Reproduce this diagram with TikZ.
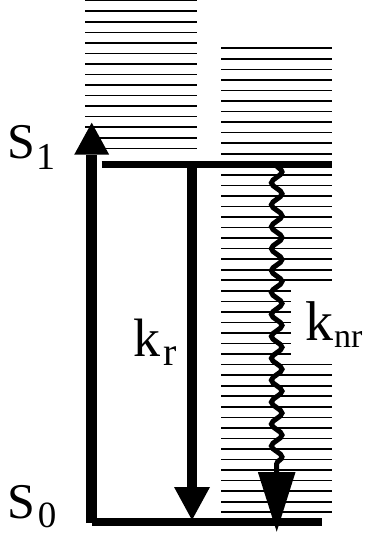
\documentclass[tikz,border=0pt]{standalone}
\usepackage{fontspec}
\setmainfont{Liberation Serif}
\usetikzlibrary{arrows.meta,decorations.pathmorphing}
\begin{document}
\begin{tikzpicture}[x=1pt,y=-1pt,
  level/.style={line width=1.6pt},
  thicklevel/.style={line width=7pt},
  bigarrow/.style={line width=10.5pt},
  wavy/.style={line width=5pt, decorate, decoration={snake, amplitude=5.3pt, segment length=21.93pt}},
  lbl/.style={anchor=base west, inner sep=0pt, outer sep=0pt}]
\useasboundingbox (0,0) rectangle (366,537);
% vibrational levels of S1
\foreach \k in {0,...,14} {
  \pgfmathsetmacro\yy{0.7+10.545*\k}
  \draw[level] (85,\yy) -- (196.7,\yy);
}
% vibrational levels of S0
\foreach \k in {0,...,44} {
  \pgfmathsetmacro\yy{48.3+10.545*\k}
  \ifnum\k>22 \ifnum\k<30 \def\xe{290.7}\else\def\xe{332.3}\fi\else\def\xe{332.3}\fi
  \draw[level] (221,\yy) -- (\xe,\yy);
}
% coordinates
\coordinate (s0a) at (91.7,522);
\coordinate (s0b) at (322,522);
\coordinate (s1a) at (101.7,165);
\coordinate (s1b) at (332.3,165);
\coordinate (upfrom) at (91.7,523);
\coordinate (uptip) at (91.7,122.7);
\coordinate (krfrom) at (192,165);
\coordinate (krtip) at (192,520);
\coordinate (knrfrom) at (276.7,165);
\coordinate (knrend) at (276.7,472);
\coordinate (knrtip) at (276.7,531.7);
% electronic levels
\draw[line width=7.3pt] (s0a) -- (s0b);
\draw[wavy] (knrfrom) -- (knrend);
\draw[thicklevel] (s1a) -- (s1b);
% transitions
\draw[bigarrow, -{Triangle[width=35pt,length=32pt,line width=0pt]}] (upfrom) -- (uptip);
\draw[bigarrow, -{Triangle[width=36pt,length=33pt,line width=0pt]}] (krfrom) -- (krtip);
\draw[line width=0.1pt, -{Triangle[width=37.7pt,length=59.7pt,line width=0pt]}] (knrend) -- (knrtip);
% labels
\node[lbl] (S1) at (7.5,158.5) {\fontsize{50}{50}\selectfont S\kern1pt\raisebox{-11.5pt}{\fontsize{38}{38}\selectfont 1}};
\node[lbl] (S0) at (7.5,518.5) {\fontsize{50}{50}\selectfont S\kern2.5pt\raisebox{-9pt}{\fontsize{37}{37}\selectfont 0}};
\node[lbl] (kr) at (133,356) {\fontsize{54}{54}\selectfont k\kern3pt\raisebox{-9pt}{\fontsize{40}{40}\selectfont r}};
\node[lbl] (knr) at (305,340.5) {\fontsize{56}{56}\selectfont k\kern1pt\raisebox{-7pt}{\fontsize{34}{34}\selectfont nr}};
\end{tikzpicture}
\end{document}
